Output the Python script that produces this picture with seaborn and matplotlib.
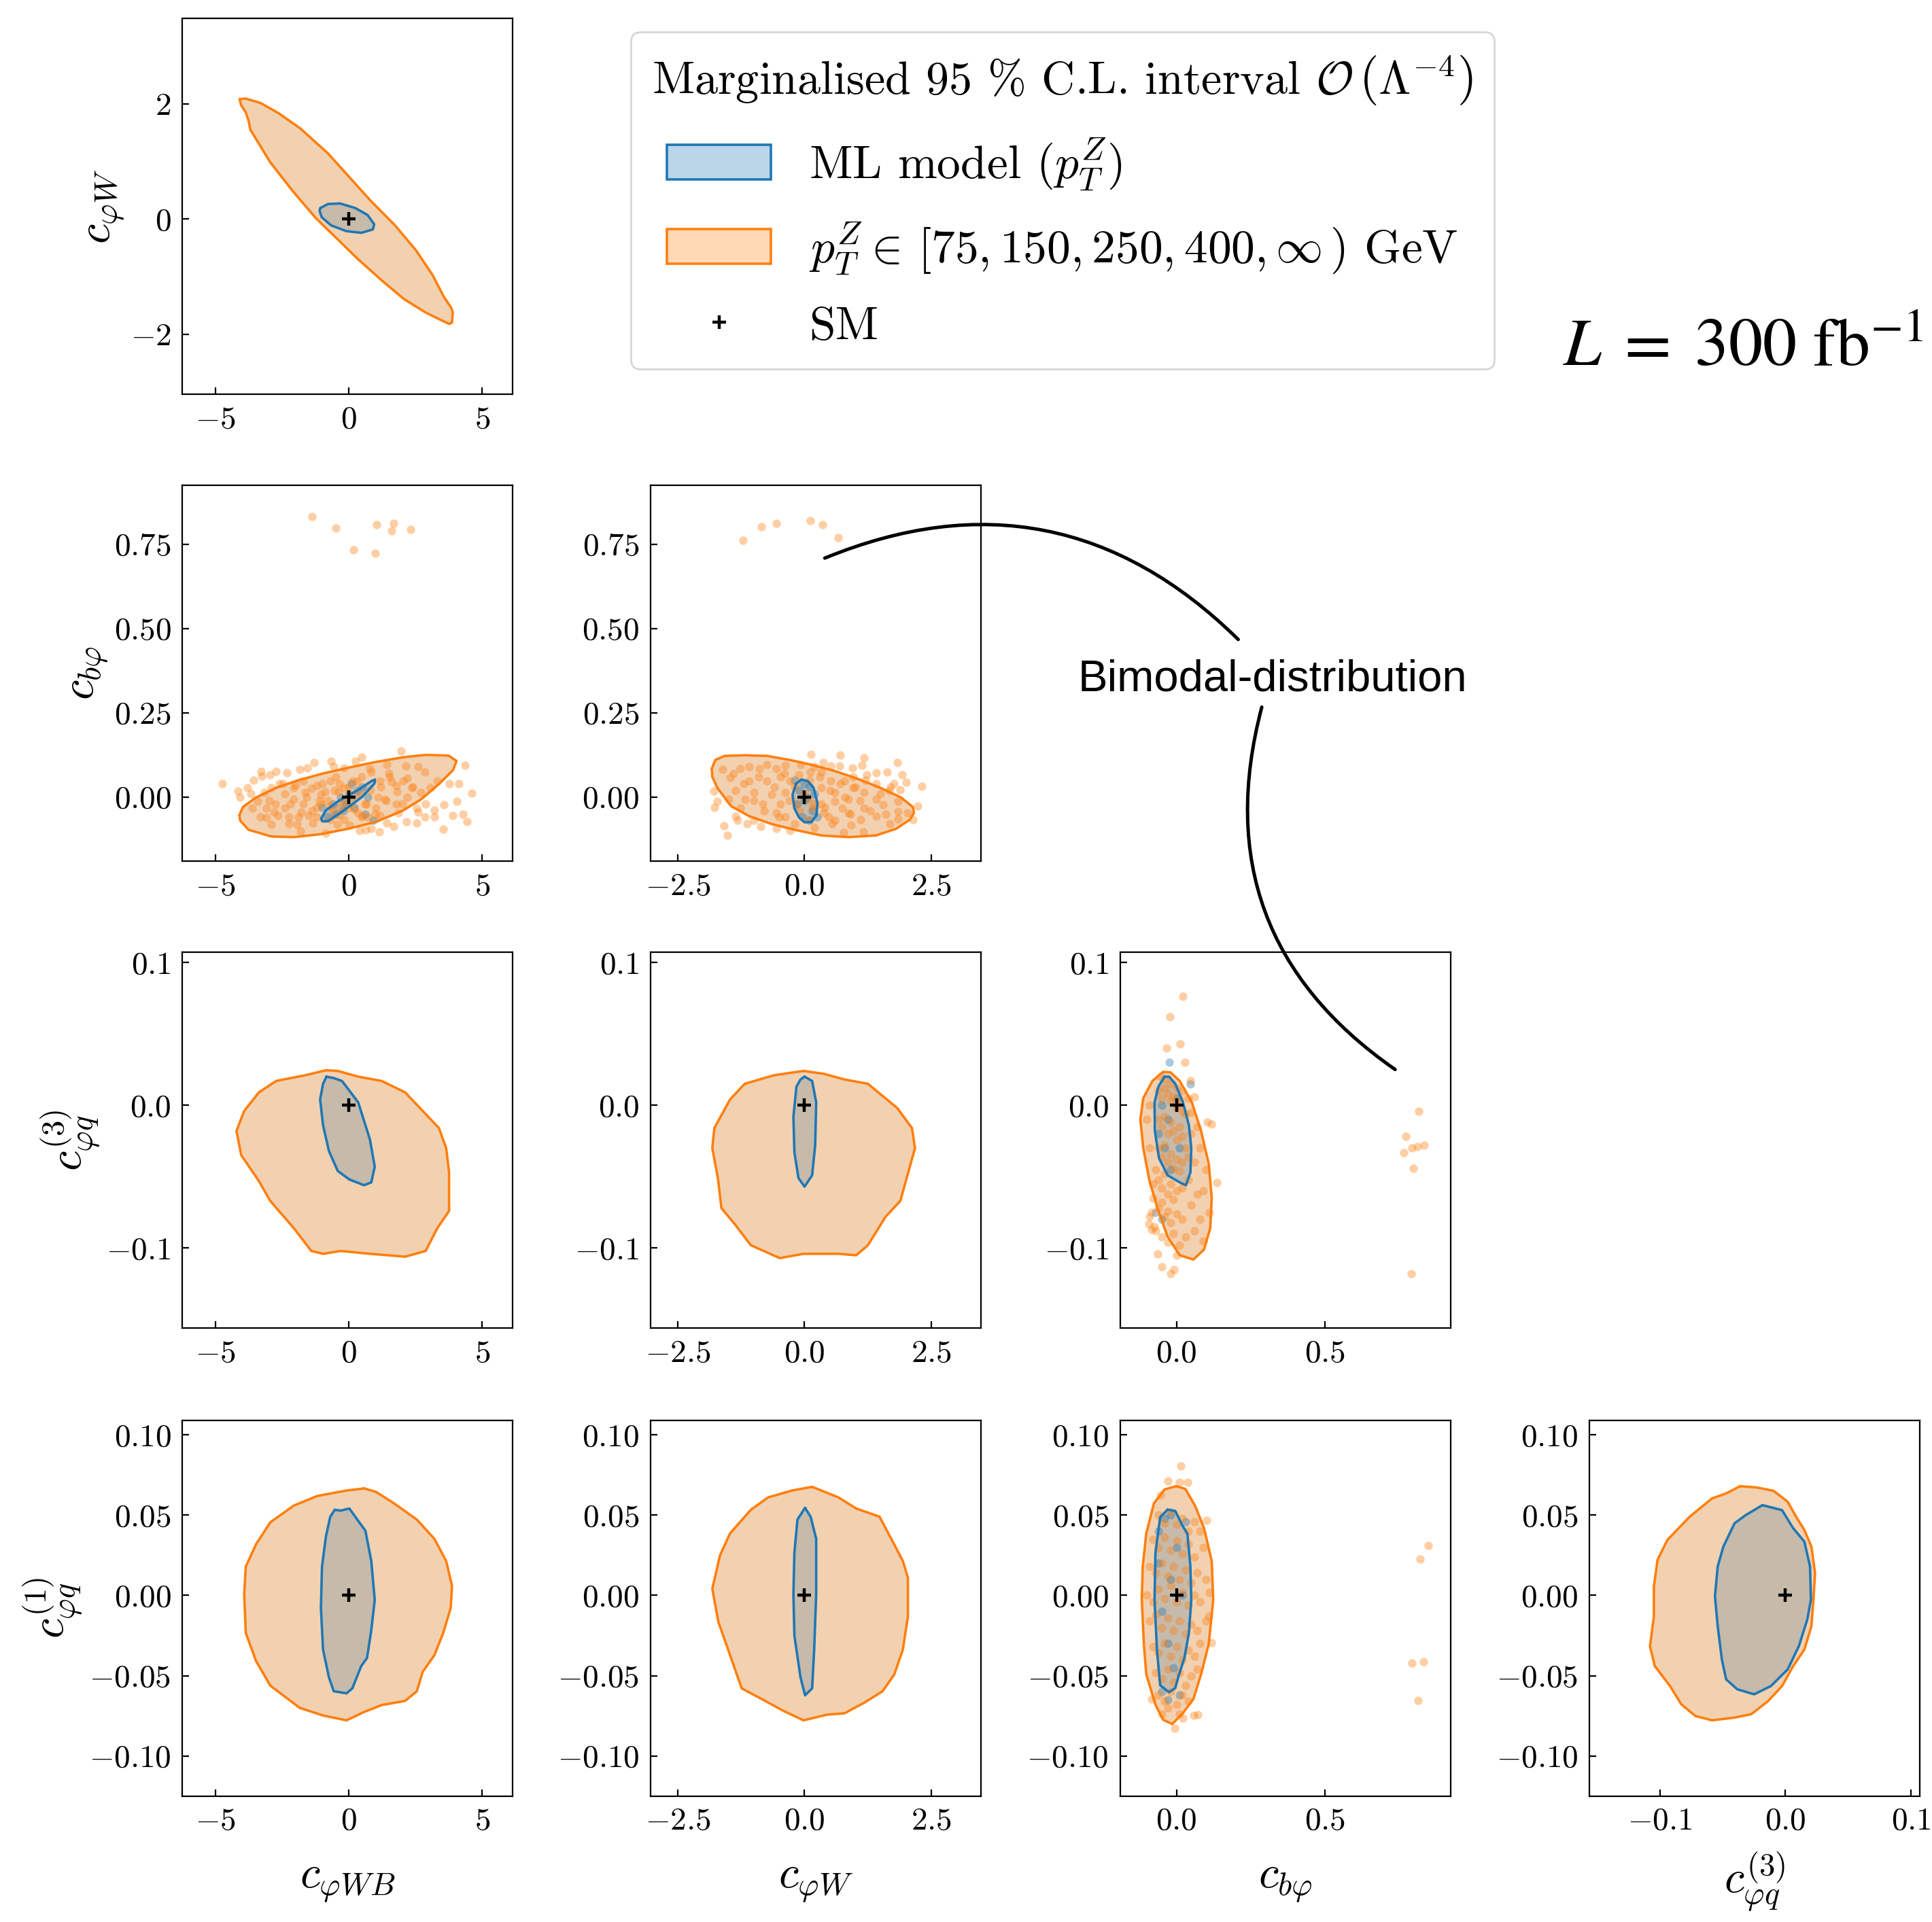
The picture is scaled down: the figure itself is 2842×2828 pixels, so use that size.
import matplotlib
matplotlib.use("Agg")
import matplotlib.pyplot as plt
import matplotlib.colors as mcolors
import seaborn as sns
from matplotlib.patches import Patch
from matplotlib.lines import Line2D

# Wilson coefficients: labels, plotting windows, ticks
coef_labels = [r"$c_{\varphi WB}$", r"$c_{\varphi W}$", r"$c_{b\varphi}$",
               r"$c_{\varphi q}^{(3)}$", r"$c_{\varphi q}^{(1)}$"]
coef_limits = [(-6.25, 6.15), (-3.04, 3.48), (-0.19, 0.925), (-0.156, 0.107), (-0.125, 0.109)]
coef_xticks = [[-5, 0, 5], [-2.5, 0.0, 2.5], [0.0, 0.5], [-0.1, 0.0, 0.1], None]
coef_yticks = [None, [-2, 0, 2], [0.0, 0.25, 0.5, 0.75], [-0.1, 0.0, 0.1],
               [-0.10, -0.05, 0.0, 0.05, 0.10]]

# 95% contours (binned p_T^Z analysis = orange, ML model = blue), keyed by (x coef, y coef)
binned_0_1 = [(-4.10, 2.08), (-3.87, 2.09), (-3.30, 2.01), (-2.62, 1.83), (-1.82, 1.57), (-0.79, 1.14),
              (0.01, 0.73), (0.81, 0.32), (1.73, -0.11), (2.53, -0.55), (3.15, -0.98), (3.55, -1.34),
              (3.84, -1.54), (3.90, -1.62), (3.87, -1.80), (3.76, -1.82), (3.44, -1.75), (2.87, -1.62),
              (2.07, -1.39), (1.27, -1.08), (0.35, -0.70), (-0.56, -0.29), (-1.25, 0.02), (-2.10, 0.48),
              (-2.96, 0.99), (-3.42, 1.34), (-3.70, 1.55), (-3.76, 1.70), (-3.87, 1.85), (-4.05, 1.98)]
ml_0_1 = [(-1.07, 0.19), (-0.79, 0.26), (-0.33, 0.27), (0.24, 0.19), (0.70, 0.07), (0.95, -0.09),
          (0.90, -0.18), (0.47, -0.24), (-0.10, -0.21), (-0.67, -0.11), (-1.02, 0.03), (-1.10, 0.14)]

binned_0_2 = [(-4.11, -0.054), (-3.98, -0.030), (-3.52, -0.003), (-2.75, 0.027), (-1.89, 0.050),
              (-0.96, 0.070), (-0.02, 0.087), (1.01, 0.104), (2.03, 0.118), (2.88, 0.125), (3.74, 0.123),
              (4.04, 0.107), (3.91, 0.080), (3.40, 0.040), (2.71, -0.007), (2.03, -0.040), (1.01, -0.074),
              (-0.02, -0.094), (-1.04, -0.110), (-2.06, -0.119), (-2.92, -0.117), (-3.77, -0.097),
              (-4.08, -0.070)]
ml_0_2 = [(-1.04, -0.064), (-0.87, -0.040), (-0.36, -0.010), (0.32, 0.020), (0.84, 0.047), (0.98, 0.052),
          (0.96, 0.040), (0.49, 0.000), (-0.19, -0.040), (-0.79, -0.072), (-1.00, -0.072)]

binned_1_2 = [(-1.83, 0.084), (-1.76, 0.110), (-1.58, 0.122), (-1.18, 0.124), (-0.74, 0.122), (-0.29, 0.110),
              (0.16, 0.095), (0.60, 0.077), (1.05, 0.054), (1.50, 0.027), (1.90, -0.001), (2.14, -0.030),
              (2.16, -0.047), (2.08, -0.067), (1.81, -0.094), (1.41, -0.114), (0.87, -0.119), (0.33, -0.114),
              (-0.20, -0.097), (-0.65, -0.080), (-1.09, -0.057), (-1.45, -0.027), (-1.72, 0.027), (-1.82, 0.060)]
ml_1_2 = [(-0.165, 0.040), (-0.058, 0.052), (0.067, 0.047), (0.179, 0.027), (0.254, -0.017), (0.237, -0.054),
          (0.134, -0.074), (0.000, -0.075), (-0.112, -0.060), (-0.201, -0.033), (-0.237, 0.007)]

binned_0_3 = [(-0.86, 0.0245), (-1.63, 0.021), (-2.73, 0.017), (-3.38, 0.009), (-3.93, -0.004), (-4.22, -0.018),
              (-4.04, -0.035), (-3.38, -0.053), (-2.95, -0.067), (-2.07, -0.086), (-1.41, -0.102), (-0.97, -0.104),
              (-0.31, -0.102), (0.79, -0.104), (2.11, -0.106), (2.88, -0.102), (3.32, -0.086), (3.76, -0.074),
              (3.76, -0.047), (3.65, -0.030), (3.38, -0.016), (2.77, -0.004), (2.11, 0.009), (1.23, 0.017),
              (0.35, 0.020), (-0.42, 0.024)]
ml_0_3 = [(-0.84, 0.020), (-0.57, 0.019), (-0.26, 0.017), (0.35, 0.002), (0.79, -0.024), (0.97, -0.043),
          (0.84, -0.054), (0.57, -0.056), (0.02, -0.052), (-0.42, -0.046), (-0.75, -0.032), (-0.97, -0.014),
          (-1.08, 0.004), (-0.97, 0.015)]

binned_1_3 = [(-0.02, 0.024), (-0.60, 0.021), (-1.18, 0.015), (-1.47, 0.004), (-1.78, -0.016), (-1.82, -0.030),
              (-1.71, -0.051), (-1.64, -0.072), (-1.36, -0.084), (-1.06, -0.098), (-0.49, -0.107), (-0.02, -0.104),
              (0.67, -0.104), (1.02, -0.105), (1.25, -0.098), (1.60, -0.078), (1.89, -0.067), (2.00, -0.053),
              (2.18, -0.030), (2.12, -0.016), (1.83, -0.002), (1.25, 0.015), (0.79, 0.018), (0.38, 0.022)]
ml_1_3 = [(0.0, 0.020), (0.15, 0.017), (0.23, 0.002), (0.21, -0.028), (0.15, -0.049), (0.0, -0.057),
          (-0.12, -0.051), (-0.20, -0.033), (-0.22, -0.008), (-0.16, 0.013), (-0.08, 0.018)]

binned_2_3 = [(-0.045, 0.0233), (-0.081, 0.017), (-0.112, 0.005), (-0.122, -0.010), (-0.112, -0.030),
              (-0.091, -0.053), (-0.061, -0.074), (-0.030, -0.092), (0.011, -0.105), (0.057, -0.108),
              (0.093, -0.101), (0.114, -0.086), (0.119, -0.065), (0.109, -0.041), (0.083, -0.018),
              (0.052, 0.002), (0.011, 0.017), (-0.020, 0.023)]
ml_2_3 = [(-0.040, 0.020), (-0.061, 0.013), (-0.074, 0.002), (-0.073, -0.018), (-0.059, -0.037),
          (-0.030, -0.049), (0.011, -0.054), (0.032, -0.056), (0.047, -0.047), (0.050, -0.030),
          (0.042, -0.014), (0.022, 0.002), (-0.004, 0.015), (-0.025, 0.020)]

binned_0_4 = [(0.57, 0.0666), (-0.09, 0.0653), (-1.19, 0.0619), (-2.07, 0.0559), (-2.95, 0.0455), (-3.49, 0.0317),
              (-3.87, 0.0179), (-3.93, 0.0007), (-3.87, -0.0234), (-3.49, -0.0407), (-2.95, -0.0562),
              (-1.85, -0.0700), (-0.97, -0.0748), (-0.09, -0.0778), (0.57, -0.0726), (1.23, -0.0683),
              (2.11, -0.0657), (2.55, -0.0597), (2.77, -0.0476), (3.21, -0.0372), (3.54, -0.0234),
              (3.82, -0.0079), (3.87, 0.0059), (3.65, 0.0214), (3.21, 0.0352), (2.55, 0.0472), (1.67, 0.0576),
              (1.01, 0.0645)]
ml_0_4 = [(-0.53, 0.0533), (-0.31, 0.0528), (0.02, 0.0541), (0.35, 0.0464), (0.62, 0.0403), (0.84, 0.0214),
          (0.97, -0.0028), (0.84, -0.0217), (0.68, -0.0390), (0.46, -0.0441), (0.13, -0.0579), (-0.09, -0.0610),
          (-0.57, -0.0597), (-0.75, -0.0510), (-0.97, -0.0338), (-1.05, -0.0079), (-1.01, 0.0179),
          (-0.86, 0.0369), (-0.70, 0.0490)]

binned_1_4 = [(0.15, 0.0676), (-0.25, 0.0653), (-0.72, 0.0610), (-1.06, 0.0533), (-1.47, 0.0386), (-1.67, 0.0248),
              (-1.82, 0.0041), (-1.70, -0.0166), (-1.47, -0.0372), (-1.24, -0.0579), (-0.83, -0.0648),
              (-0.43, -0.0717), (-0.02, -0.0778), (0.44, -0.0743), (0.79, -0.0734), (1.19, -0.0666),
              (1.54, -0.0597), (1.77, -0.0493), (1.94, -0.0338), (2.04, -0.0131), (2.04, 0.0110), (1.94, 0.0214),
              (1.77, 0.0317), (1.48, 0.0490), (1.02, 0.0541), (0.67, 0.0610)]
ml_1_4 = [(0.01, 0.0545), (0.12, 0.0490), (0.23, 0.0352), (0.23, 0.0007), (0.19, -0.0338), (0.15, -0.0579),
          (0.01, -0.0622), (-0.08, -0.0510), (-0.20, -0.0252), (-0.22, 0.0007), (-0.20, 0.0266), (-0.14, 0.0472)]

binned_2_4 = [(-0.001, 0.0680), (-0.040, 0.0660), (-0.076, 0.0574), (-0.102, 0.0385), (-0.114, 0.0179),
              (-0.117, -0.0027), (-0.110, -0.0302), (-0.102, -0.0491), (-0.071, -0.0680), (-0.045, -0.0775),
              (-0.014, -0.0801), (0.022, -0.0732), (0.057, -0.0646), (0.083, -0.0491), (0.109, -0.0302),
              (0.124, -0.0027), (0.119, 0.0213), (0.093, 0.0419), (0.063, 0.0557), (0.030, 0.0663)]
ml_2_4 = [(-0.030, 0.0534), (-0.004, 0.0526), (0.022, 0.0428), (0.037, 0.0385), (0.047, 0.0179), (0.050, -0.0027),
          (0.042, -0.0234), (0.027, -0.0388), (0.006, -0.0509), (-0.004, -0.0577), (-0.025, -0.0603),
          (-0.055, -0.0560), (-0.066, -0.0337), (-0.074, -0.0027), (-0.071, 0.0265), (-0.055, 0.0488)]

binned_3_4 = [(-0.0361, 0.0680), (-0.0227, 0.0672), (-0.0094, 0.0651), (0.0018, 0.0583), (0.0085, 0.0490),
              (0.0151, 0.0407), (0.0207, 0.0304), (0.0236, 0.0139), (0.0223, -0.0027), (0.0207, -0.0192),
              (0.0151, -0.0337), (0.0062, -0.0440), (-0.0027, -0.0565), (-0.0138, -0.0658), (-0.0272, -0.0740),
              (-0.0405, -0.0761), (-0.0584, -0.0778), (-0.0717, -0.0751), (-0.0829, -0.0678), (-0.0918, -0.0565),
              (-0.1040, -0.0440), (-0.1078, -0.0316), (-0.1047, -0.0130), (-0.1047, 0.0056), (-0.1018, 0.0221),
              (-0.0940, 0.0345), (-0.0762, 0.0490), (-0.0584, 0.0604), (-0.0472, 0.0635)]
ml_3_4 = [(-0.0183, 0.0562), (-0.0027, 0.0531), (0.0062, 0.0418), (0.0151, 0.0335), (0.0196, 0.0180),
          (0.0203, -0.0027), (0.0174, -0.0151), (0.0107, -0.0316), (0.0018, -0.0461), (-0.0116, -0.0565),
          (-0.0249, -0.0616), (-0.0383, -0.0585), (-0.0472, -0.0523), (-0.0506, -0.0399), (-0.0539, -0.0192),
          (-0.0561, -0.0006), (-0.0539, 0.0180), (-0.0494, 0.0304), (-0.0405, 0.0449), (-0.0316, 0.0500)]

# posterior samples shown where c_bphi is involved (bimodal)
binned_pts_0_2 = [
    (-1.39, 0.832), (-0.50, 0.798), (1.03, 0.808), (1.69, 0.812), (2.32, 0.794), (1.59, 0.790), (0.18, 0.734),
    (0.98, 0.723),
    (-4.74, 0.040), (-4.16, 0.018), (-4.09, 0.000), (-3.81, 0.028), (-3.58, 0.049), (-3.30, 0.077), (-3.28, 0.062),
    (-2.96, 0.067), (-2.73, 0.076), (-2.34, 0.072), (-1.85, 0.082), (-1.55, 0.087), (-1.32, 0.102), (-0.67, 0.106),
    (-0.57, 0.090), (-0.19, 0.087), (0.26, 0.106), (0.47, 0.119), (0.79, 0.084), (1.43, 0.097), (1.96, 0.136),
    (2.13, 0.092), (2.59, 0.090), (2.84, 0.075), (3.31, 0.048), (3.78, 0.039), (4.14, 0.039), (4.36, 0.095),
    (4.62, 0.012), (4.06, -0.012), (3.57, -0.023), (3.21, -0.039), (4.29, -0.050), (3.89, -0.054), (4.43, -0.074),
    (3.55, -0.095), (3.20, -0.060), (2.84, -0.059), (2.54, -0.077), (2.16, -0.074), (1.69, -0.087), (1.43, -0.078),
    (1.13, -0.104), (0.84, -0.094), (0.62, -0.097), (0.39, -0.100), (0.03, -0.084), (-0.44, -0.082),
    (-0.87, -0.107), (-1.36, -0.077), (-1.83, -0.102), (-1.95, -0.082), (-2.25, -0.079), (-2.92, -0.082),
    (-3.09, -0.062), (-3.33, -0.059), (-3.64, -0.033), (-3.43, -0.013), (-3.69, 0.010), (-3.17, 0.013),
    (-2.92, 0.027), (-2.49, 0.040), (-2.06, 0.027), (-1.72, 0.047), (-1.64, 0.013), (-1.21, 0.033), (-1.04, 0.007),
    (-0.70, 0.047), (-0.53, 0.020), (-0.36, 0.040), (-0.19, 0.027), (0.15, 0.047), (0.49, 0.060), (0.84, 0.074),
    (1.18, 0.047), (1.52, 0.060), (1.77, 0.033), (2.03, 0.047), (2.37, 0.027), (2.71, 0.013), (3.05, 0.027),
    (2.20, 0.000), (1.77, -0.020), (1.35, -0.007), (1.01, -0.033), (0.67, -0.020), (0.32, -0.047), (-0.02, -0.033),
    (-0.36, -0.054), (-0.70, -0.027), (-1.04, -0.020), (-1.38, -0.040), (-1.72, -0.020), (-2.06, -0.007),
    (-2.41, -0.033), (-2.75, -0.020), (-3.09, -0.033), (-2.66, -0.054), (-2.24, -0.060), (-1.89, -0.060),
    (-1.21, -0.060), (-0.70, -0.067), (-0.19, -0.067), (0.49, -0.060), (1.18, -0.054), (1.86, -0.047),
    (2.54, -0.033), (2.88, -0.020),
    (-2.4, 0.01), (-2.2, -0.02), (-2.0, 0.035), (-1.8, -0.045), (-1.6, 0.0), (-1.4, 0.025), (-1.2, -0.03),
    (-1.0, 0.04), (-0.8, -0.01), (-0.6, -0.04), (-0.4, 0.015), (-0.2, -0.015), (0.0, 0.03), (0.2, -0.035),
    (0.4, 0.01), (0.6, -0.02), (0.8, 0.02), (1.0, -0.05), (1.2, 0.03), (1.4, -0.01), (1.6, 0.045), (1.8, 0.015),
    (2.0, -0.02), (2.2, 0.055), (2.4, 0.03), (-2.6, 0.04), (-2.8, -0.045), (-3.0, -0.01), (-1.5, -0.055),
    (-0.5, 0.06), (0.5, -0.055), (1.5, 0.07), (2.6, -0.045), (-0.9, 0.015), (0.1, 0.0), (-0.3, -0.03),
    (0.3, 0.045), (0.7, -0.06), (-1.1, -0.01), (1.1, 0.0)]
ml_pts_0_2 = [(-0.6, -0.02), (-0.3, 0.0), (0.0, 0.01), (0.3, 0.02), (0.5, 0.03), (-0.5, -0.05), (-0.8, -0.06),
              (0.7, 0.0), (0.2, -0.03), (-0.2, -0.04), (0.9, -0.07), (-1.0, -0.03), (0.1, 0.04), (-0.1, -0.02),
              (0.6, -0.05)]

binned_pts_1_2 = [
    (-1.21, 0.761), (-0.85, 0.803), (-0.56, 0.813), (0.11, 0.820), (0.36, 0.808), (0.66, 0.770),
    (-1.52, -0.114), (-1.59, -0.085), (-1.78, -0.030), (-1.72, -0.013), (-1.79, 0.017), (-1.62, 0.082),
    (-1.47, 0.057), (-1.27, 0.085), (-1.36, -0.057), (-1.32, -0.070), (-1.14, -0.080), (-1.00, -0.070),
    (-0.87, -0.087), (-0.89, 0.084), (-0.74, 0.097), (-0.56, 0.084), (-0.56, -0.094), (-0.38, 0.094),
    (-0.29, -0.100), (-0.07, 0.097), (0.125, 0.127), (0.20, -0.092), (0.37, 0.102), (0.51, 0.092), (0.71, 0.124),
    (0.69, 0.092), (0.77, -0.105), (0.95, 0.086), (1.16, -0.104), (1.18, 0.117), (1.14, 0.094), (1.41, 0.072),
    (1.63, 0.075), (1.83, 0.102), (1.93, 0.067), (2.01, 0.044), (1.89, 0.021), (2.31, 0.032), (2.23, -0.027),
    (2.14, -0.067), (1.84, -0.066), (1.84, -0.042), (1.69, -0.080), (1.41, -0.057), (1.11, -0.067),
    (0.92, -0.084), (0.55, -0.079), (0.48, -0.060), (1.55, -0.023), (1.67, 0.020), (1.41, 0.040), (1.18, 0.013),
    (0.96, 0.027), (0.87, -0.007), (0.74, -0.033), (0.60, 0.013), (0.51, 0.047), (0.33, 0.074), (0.33, 0.027),
    (0.33, -0.020), (0.38, -0.047), (1.18, -0.033), (1.41, -0.007), (0.96, 0.060), (1.23, 0.067), (0.78, 0.047),
    (-0.29, 0.047), (-0.38, 0.013), (-0.47, -0.020), (-0.56, -0.047), (-0.65, 0.007), (-0.74, 0.047),
    (-0.83, -0.020), (-1.00, 0.013), (-1.09, 0.047), (-1.18, -0.007), (-1.27, -0.033), (-1.36, 0.020),
    (-1.50, -0.007), (-0.38, -0.060), (-0.20, -0.080), (0.07, -0.067), (-0.11, 0.067), (0.11, 0.074),
    (-0.47, 0.060), (0.07, -0.007), (0.16, -0.033), (-0.16, -0.020), (0.60, -0.013), (0.87, -0.047),
    (1.85, -0.013), (2.03, -0.047), (1.76, 0.040),
    (-1.2, 0.04), (-1.0, -0.01), (-0.9, 0.06), (-0.8, -0.04), (-0.6, 0.03), (-0.5, -0.06), (-0.4, 0.07),
    (-0.3, -0.01), (-0.2, 0.03), (-0.1, -0.04), (0.0, 0.01), (0.1, 0.05), (0.2, -0.02), (0.3, 0.06), (0.4, -0.03),
    (0.5, 0.02), (0.6, -0.07), (0.7, 0.04), (0.8, 0.00), (0.9, -0.05), (1.0, 0.03), (1.1, -0.01), (1.2, 0.05),
    (1.3, -0.04), (1.5, 0.01), (1.6, -0.05), (1.7, 0.03), (-1.4, 0.07), (-1.1, 0.09), (0.2, 0.09)]
ml_pts_1_2 = [(-0.1, 0.02), (0.0, -0.01), (0.1, 0.03), (0.15, -0.04), (-0.05, -0.06), (0.05, 0.0), (-0.15, -0.02),
              (0.2, 0.01), (0.0, 0.04), (0.1, -0.07), (-0.2, 0.05), (0.25, -0.06)]

binned_pts_2_3 = [
    (0.818, -0.004), (0.773, -0.022), (0.767, -0.033), (0.794, -0.030), (0.814, -0.029), (0.835, -0.028),
    (0.800, -0.044), (0.793, -0.118),
    (0.021, 0.076), (-0.021, 0.062), (0.012, 0.043), (-0.033, 0.040), (0.028, 0.030),
    (-0.050, -0.113), (-0.020, -0.118), (-0.009, -0.115), (-0.063, -0.104), (-0.091, -0.078), (-0.093, -0.083),
    (-0.084, -0.087), (0.137, -0.054), (0.117, -0.013), (0.104, -0.012), (0.061, 0.006), (0.047, 0.017),
    (-0.06, 0.010), (-0.05, 0.005), (-0.04, 0.012), (-0.03, 0.008), (-0.02, 0.003), (-0.01, 0.006), (0.00, -0.002),
    (0.01, 0.004), (0.02, -0.004), (0.03, -0.006), (-0.06, -0.010), (-0.05, -0.015), (-0.04, -0.008),
    (-0.03, -0.020), (-0.02, -0.012), (-0.01, -0.018), (0.00, -0.024), (0.01, -0.015), (0.02, -0.022),
    (0.03, -0.030), (-0.06, -0.030), (-0.05, -0.036), (-0.04, -0.028), (-0.03, -0.040), (-0.02, -0.034),
    (-0.01, -0.044), (0.00, -0.038), (0.01, -0.046), (0.02, -0.040), (0.04, -0.036), (-0.07, -0.045),
    (-0.06, -0.052), (-0.05, -0.058), (-0.04, -0.048), (-0.03, -0.062), (-0.02, -0.055), (-0.01, -0.066),
    (0.00, -0.060), (0.02, -0.058), (0.04, -0.052), (-0.08, -0.065), (-0.06, -0.072), (-0.05, -0.068),
    (-0.04, -0.078), (-0.03, -0.074), (-0.02, -0.082), (0.00, -0.076), (0.02, -0.080), (0.05, -0.070),
    (0.07, -0.062), (-0.07, -0.088), (-0.05, -0.092), (-0.03, -0.096), (-0.01, -0.090), (0.01, -0.098),
    (0.03, -0.092), (0.06, -0.088), (0.08, -0.080), (0.09, -0.060), (0.06, -0.040), (0.08, -0.030),
    (0.07, -0.015), (0.05, -0.005), (0.10, -0.045), (0.11, -0.075), (0.09, -0.095), (-0.09, -0.030),
    (-0.10, -0.010), (-0.09, 0.000), (-0.08, -0.055), (-0.04, 0.018), (-0.02, 0.015), (0.00, 0.012),
    (0.02, 0.010), (-0.055, 0.020), (0.04, 0.005), (0.05, -0.020), (-0.085, -0.075), (-0.075, -0.085),
    (0.00, -0.105)]
ml_pts_2_3 = [(-0.024, 0.030), (0.047, 0.015), (-0.05, 0.0), (-0.03, -0.01), (-0.04, -0.03), (0.0, 0.005),
              (-0.02, -0.045), (-0.06, -0.02), (0.01, -0.03), (-0.07, -0.075), (-0.05, -0.08)]

binned_pts_2_4 = [
    (0.849, 0.0311), (0.822, 0.0227), (0.794, -0.0423), (0.834, -0.0411), (0.815, -0.0655),
    (0.014, 0.0806), (-0.030, 0.0711), (0.011, 0.0704), (0.037, 0.0706), (0.101, 0.0467), (0.073, -0.0744),
    (0.059, -0.0747), (-0.006, -0.0826), (0.022, -0.0766), (0.119, -0.0296), (0.109, -0.0131), (-0.083, -0.0646),
    (-0.055, 0.0625),
    (-0.06, 0.050), (-0.04, 0.045), (-0.02, 0.052), (0.00, 0.044), (0.02, 0.048), (0.04, 0.040), (0.06, 0.046),
    (0.08, 0.040), (-0.08, 0.035), (-0.06, 0.030), (-0.04, 0.036), (-0.02, 0.028), (0.00, 0.034), (0.02, 0.026),
    (0.04, 0.032), (0.06, 0.024), (0.09, 0.030), (-0.09, 0.018), (-0.07, 0.014), (-0.05, 0.020), (-0.03, 0.012),
    (-0.01, 0.018), (0.01, 0.010), (0.03, 0.016), (0.05, 0.008), (0.07, 0.014), (0.10, 0.010), (-0.10, 0.000),
    (-0.08, -0.004), (-0.06, 0.004), (-0.04, -0.002), (-0.02, 0.006), (0.00, -0.004), (0.02, 0.002),
    (0.04, -0.006), (0.06, 0.000), (0.08, -0.004), (0.11, 0.002), (-0.09, -0.016), (-0.07, -0.012),
    (-0.05, -0.020), (-0.03, -0.014), (-0.01, -0.022), (0.01, -0.016), (0.03, -0.024), (0.05, -0.018),
    (0.07, -0.022), (0.10, -0.016), (-0.08, -0.032), (-0.06, -0.036), (-0.04, -0.030), (-0.02, -0.038),
    (0.00, -0.032), (0.02, -0.040), (0.04, -0.034), (0.06, -0.038), (0.08, -0.030), (-0.07, -0.048),
    (-0.05, -0.052), (-0.03, -0.046), (-0.01, -0.054), (0.01, -0.048), (0.03, -0.056), (0.05, -0.050),
    (0.07, -0.046), (-0.06, -0.062), (-0.04, -0.066), (-0.02, -0.060), (0.00, -0.068), (0.02, -0.062),
    (0.04, -0.066), (-0.05, -0.074), (-0.03, -0.070), (0.01, -0.074)]
ml_pts_2_4 = [(-0.04, 0.048), (-0.02, 0.050), (0.03, 0.046), (-0.06, 0.02), (-0.05, -0.01), (-0.03, -0.03),
              (0.0, 0.03), (-0.01, -0.045), (-0.05, -0.06), (-0.03, -0.065), (0.01, -0.062), (-0.06, 0.04),
              (0.02, 0.0), (-0.02, 0.01)]

contours = {(0, 1): (binned_0_1, ml_0_1), (0, 2): (binned_0_2, ml_0_2), (1, 2): (binned_1_2, ml_1_2),
            (0, 3): (binned_0_3, ml_0_3), (1, 3): (binned_1_3, ml_1_3), (2, 3): (binned_2_3, ml_2_3),
            (0, 4): (binned_0_4, ml_0_4), (1, 4): (binned_1_4, ml_1_4), (2, 4): (binned_2_4, ml_2_4),
            (3, 4): (binned_3_4, ml_3_4)}
samples = {(0, 2): (binned_pts_0_2, ml_pts_0_2), (1, 2): (binned_pts_1_2, ml_pts_1_2),
           (2, 3): (binned_pts_2_3, ml_pts_2_3), (2, 4): (binned_pts_2_4, ml_pts_2_4)}

sns.set_theme(style="ticks")
plt.rcParams.update({
    "font.family": ["cmr10"],
    "mathtext.fontset": "cm",
    "axes.formatter.use_mathtext": True,
    "axes.unicode_minus": True,
    "axes.linewidth": 0.8,
    "axes.edgecolor": "black",
    "axes.labelcolor": "black",
    "text.color": "black",
    "xtick.direction": "in", "ytick.direction": "in",
    "xtick.major.size": 3.5, "ytick.major.size": 3.5,
    "xtick.major.width": 0.8, "ytick.major.width": 0.8,
    "xtick.labelsize": 17, "ytick.labelsize": 17,
    "xtick.color": "black", "ytick.color": "black",
})

blue, orange = sns.color_palette("tab10")[0], sns.color_palette("tab10")[1]
orange_fill = "#f2d1b1"
overlap_fill = "#c6baab"

fig = plt.figure(figsize=(14.21, 14.14), dpi=200)
col_left = [0.0944, 0.3367, 0.5798, 0.8227]
row_bottom = [0.7949, 0.552, 0.309, 0.0655]
ax_w, ax_h = 0.171, 0.1955

axes = {}
for (i, j), (binned, ml) in contours.items():
    row, col = j - 1, i
    ax = fig.add_axes([col_left[col], row_bottom[row], ax_w, ax_h])
    axes[(i, j)] = ax
    bx, by = zip(*binned)
    mx, my = zip(*ml)
    ax.fill(bx, by, color=orange_fill, lw=0, zorder=1)
    ax.fill(mx, my, color=overlap_fill, lw=0, zorder=1)
    if (i, j) in samples:
        pts_b, pts_m = samples[(i, j)]
        sns.scatterplot(x=[p[0] for p in pts_m], y=[p[1] for p in pts_m], ax=ax, color=blue,
                        s=20, alpha=0.38, linewidth=0, legend=False, zorder=2)
        sns.scatterplot(x=[p[0] for p in pts_b], y=[p[1] for p in pts_b], ax=ax, color=orange,
                        s=20, alpha=0.38, linewidth=0, legend=False, zorder=3)
    ax.plot(list(bx) + [bx[0]], list(by) + [by[0]], color=orange, lw=1.3, zorder=4)
    ax.plot(list(mx) + [mx[0]], list(my) + [my[0]], color=blue, lw=1.3, zorder=4)
    ax.plot([0], [0], marker="+", color="black", ms=7, mew=1.6, ls="none", zorder=5)

    ax.set_xlim(coef_limits[i])
    ax.set_ylim(coef_limits[j])
    ax.set_xticks(coef_xticks[i])
    ax.set_yticks(coef_yticks[j])
    ax.set_xlabel("")
    ax.set_ylabel("")
    ax.tick_params(top=False, right=False, pad=6)
    if col == 0:
        ax.set_ylabel(coef_labels[j], fontsize=24, labelpad=2)
    if row == 3:
        ax.set_xlabel(coef_labels[i], fontsize=24, labelpad=8 if col == 3 else 15)

handles = [Patch(facecolor=mcolors.to_rgba(blue, 0.3), edgecolor=blue, lw=1.3),
           Patch(facecolor=mcolors.to_rgba(orange, 0.3), edgecolor=orange, lw=1.3),
           Line2D([], [], marker="+", color="black", ls="none", ms=7, mew=1.6)]
names = [r"ML model $(p_T^Z)$", r"$p_T^Z \in\, [75, 150, 250, 400, \infty\,)$ GeV", "SM"]
fig.legend(handles, names, loc="upper left", bbox_to_anchor=(0.3265, 0.9833), borderaxespad=0,
           title=r"Marginalised 95 % C.L. interval $\mathcal{O}\,\left(\Lambda^{-4}_{\ }\right)$",
           fontsize=25, title_fontsize=24.5, handlelength=2.2, handleheight=0.75,
           handletextpad=0.8, labelspacing=0.6, borderpad=0.45, frameon=True)

fig.text(0.809, 0.8096, r"$L\;=\;300\ \mathrm{fb}^{-1}$", fontsize=36, ha="left", va="baseline",
         math_fontfamily="stix")

fig.text(0.6588, 0.6404, "Bimodal-distribution", fontsize=23.5, ha="center", va="baseline",
         family="Liberation Sans", color="black")
axes[(1, 2)].annotate("", xy=(0.40, 0.709), xycoords="data", xytext=(0.6409, 0.6673),
                      textcoords="figure fraction", annotation_clip=False,
                      arrowprops=dict(arrowstyle="-", connectionstyle="arc3,rad=0.33", lw=1.8,
                                      color="black", shrinkA=0, shrinkB=0))
axes[(2, 3)].annotate("", xy=(0.738, 0.025), xycoords="data", xytext=(0.6531, 0.6321),
                      textcoords="figure fraction", annotation_clip=False,
                      arrowprops=dict(arrowstyle="-", connectionstyle="arc3,rad=0.35", lw=1.8,
                                      color="black", shrinkA=0, shrinkB=0))

fig.savefig("out.png", dpi=200)
